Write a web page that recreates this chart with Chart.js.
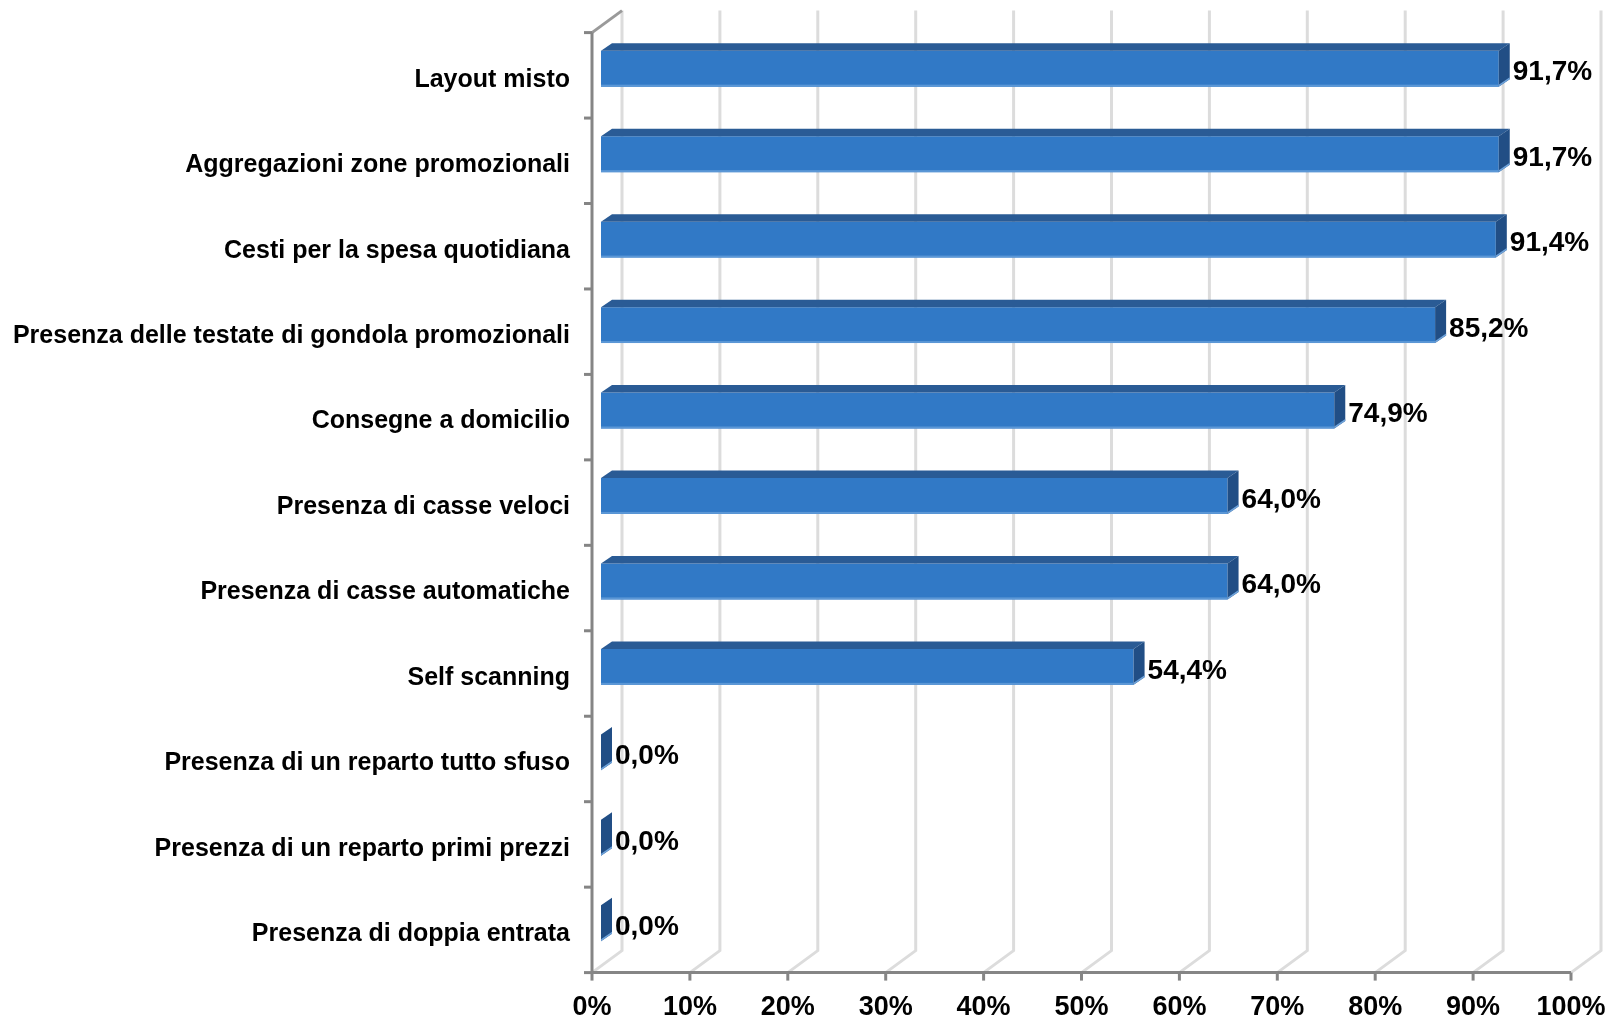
<!DOCTYPE html>
<html>
<head>
<meta charset="utf-8">
<script src="https://cdn.jsdelivr.net/npm/chart.js@4/dist/chart.umd.min.js"></script>
<style>
  html, body { margin: 0; padding: 0; background: #fff; }
  #wrap { width: 1612px; height: 1019px; }
</style>
</head>
<body>
<div id="wrap"><canvas id="myChart" width="1612" height="1019"></canvas></div>
<script>
var categories = [
  'Layout misto',
  'Aggregazioni zone promozionali',
  'Cesti per la spesa quotidiana',
  'Presenza delle testate di gondola promozionali',
  'Consegne a domicilio',
  'Presenza di casse veloci',
  'Presenza di casse automatiche',
  'Self scanning',
  'Presenza di un reparto tutto sfuso',
  'Presenza di un reparto primi prezzi',
  'Presenza di doppia entrata'
];
var values = [91.7, 91.7, 91.4, 85.2, 74.9, 64.0, 64.0, 54.4, 0.0, 0.0, 0.0];
var tickValues = [0, 10, 20, 30, 40, 50, 60, 70, 80, 90, 100];

// depth of the 3d box, where the bars sit inside it, and the bars' own depth
var DEPTH_X = 30, DEPTH_Y = 22, BAR_AT = 0.3;
var BAR_DX = 11, BAR_DY = 7.5;
var FAMILY = '"Liberation Sans", Arial, sans-serif';

var fmt = function(v) { return v.toFixed(1).replace('.', ',') + '%'; };

var box3d = {
  id: 'box3d',
  beforeDatasetsDraw: function(chart) {
    var ctx = chart.ctx, a = chart.chartArea;
    var xs = chart.scales.x;
    var fx = -DEPTH_X * BAR_AT, fy = DEPTH_Y * BAR_AT;       // front plane
    var bx = fx + DEPTH_X, by = fy - DEPTH_Y;                 // back wall
    var top = a.top, bottom = a.bottom;
    ctx.save();
    ctx.lineCap = 'butt';
    // back wall grid and floor lines
    ctx.strokeStyle = '#dcdcdc';
    ctx.lineWidth = 3;
    tickValues.forEach(function(v) {
      var px = xs.getPixelForValue(v);
      ctx.beginPath();
      ctx.moveTo(px + bx, top + by);
      ctx.lineTo(px + bx, bottom + by);
      ctx.lineTo(px + fx, bottom + fy);
      ctx.stroke();
    });
    // side wall top edge
    var x0 = xs.getPixelForValue(0);
    ctx.strokeStyle = '#9a9a9a';
    ctx.beginPath();
    ctx.moveTo(x0 + fx, top + fy);
    ctx.lineTo(x0 + bx, top + by);
    ctx.stroke();
    // axes
    ctx.strokeStyle = '#858585';
    ctx.beginPath();
    ctx.moveTo(x0 + fx, top + fy);
    ctx.lineTo(x0 + fx, bottom + fy);
    ctx.lineTo(xs.getPixelForValue(100) + fx, bottom + fy);
    ctx.stroke();
    var step = (bottom - top) / categories.length;
    for (var i = 0; i <= categories.length; i++) {
      var ty = top + fy + i * step;
      ctx.beginPath();
      ctx.moveTo(x0 + fx - 8, ty);
      ctx.lineTo(x0 + fx, ty);
      ctx.stroke();
    }
    tickValues.forEach(function(v) {
      var px = xs.getPixelForValue(v) + fx;
      ctx.beginPath();
      ctx.moveTo(px, bottom + fy);
      ctx.lineTo(px, bottom + fy + 8);
      ctx.stroke();
    });
    ctx.restore();
  },
  afterDatasetsDraw: function(chart) {
    var ctx = chart.ctx;
    var dx = BAR_DX, dy = BAR_DY;
    var meta = chart.getDatasetMeta(0);
    ctx.save();
    meta.data.forEach(function(bar, i) {
      var p = bar.getProps(['x', 'y', 'base', 'height'], true);
      var x0 = p.base, x1 = p.x;
      var yt = p.y - p.height / 2, yb = p.y + p.height / 2;
      // light lower edge of the front face
      if (x1 > x0) {
        ctx.fillStyle = '#5b97d6';
        ctx.fillRect(x0, yb - 2, x1 - x0, 2);
      }
      // top face
      ctx.fillStyle = '#2a5b95';
      ctx.beginPath();
      ctx.moveTo(x0, yt);
      ctx.lineTo(x0 + dx, yt - dy);
      ctx.lineTo(x1 + dx, yt - dy);
      ctx.lineTo(x1, yt);
      ctx.closePath();
      ctx.fill();
      // end face
      ctx.fillStyle = '#214e85';
      ctx.beginPath();
      ctx.moveTo(x1, yt);
      ctx.lineTo(x1 + dx, yt - dy);
      ctx.lineTo(x1 + dx, yb - dy);
      ctx.lineTo(x1, yb);
      ctx.closePath();
      ctx.fill();
      ctx.fillStyle = '#6fa3da';
      ctx.beginPath();
      ctx.moveTo(x1, yb - 2);
      ctx.lineTo(x1 + dx, yb - dy - 2);
      ctx.lineTo(x1 + dx, yb - dy);
      ctx.lineTo(x1, yb);
      ctx.closePath();
      ctx.fill();
      // value label
      ctx.fillStyle = '#000';
      ctx.font = 'bold 28px ' + FAMILY;
      ctx.textAlign = 'left';
      ctx.textBaseline = 'middle';
      ctx.fillText(fmt(values[i]), x1 + dx + 3, p.y + 4);
    });
    ctx.restore();
  }
};

var ctx = document.getElementById('myChart').getContext('2d');
var myChart = new Chart(ctx, {
  type: 'bar',
  data: {
    labels: categories,
    datasets: [{
      data: values,
      backgroundColor: '#3179c6',
      borderWidth: 0,
      categoryPercentage: 1,
      barPercentage: 0.42
    }]
  },
  options: {
    indexAxis: 'y',
    responsive: false,
    animation: false,
    layout: { padding: { top: 26, right: 32, bottom: 0, left: 0 } },
    plugins: { legend: { display: false }, tooltip: { enabled: false } },
    scales: {
      x: {
        min: 0, max: 100,
        afterFit: function(s) { s.height = 53; s.paddingLeft = 0; s.paddingRight = 0; },
        afterBuildTicks: function(s) { s.ticks = tickValues.map(function(v) { return { value: v }; }); },
        grid: { display: false, drawTicks: false },
        border: { display: false },
        ticks: {
          padding: 25,
          labelOffset: -9,
          maxRotation: 0,
          color: '#000',
          font: { family: FAMILY, weight: 'bold', size: 27 },
          callback: function(v) { return v + '%'; }
        }
      },
      y: {
        afterFit: function(s) { s.width = 601; s.paddingTop = 0; s.paddingBottom = 0; },
        grid: { display: false, drawTicks: false },
        border: { display: false },
        ticks: {
          padding: 31,
          labelOffset: 11,
          autoSkip: false,
          color: '#000',
          font: { family: FAMILY, weight: 'bold', size: 25 }
        }
      }
    }
  },
  plugins: [box3d]
});
</script>
</body>
</html>
